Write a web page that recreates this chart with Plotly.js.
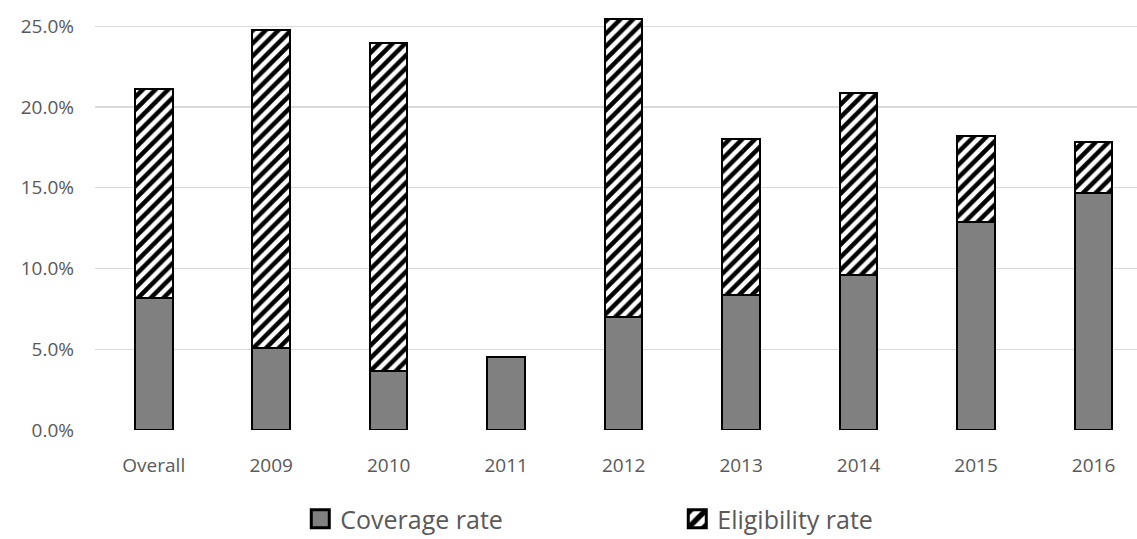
<!DOCTYPE html>
<html>
<head>
<meta charset="utf-8">
<script src="https://cdn.plot.ly/plotly-3.0.1.min.js"></script>
<style>html,body{margin:0;padding:0;background:#fff;}#chart{width:1137px;height:539px;}</style>
</head>
<body>
<div id="chart"></div>
<script>
const categories = ["Overall", "2009", "2010", "2011", "2012", "2013", "2014", "2015", "2016"];
const coverageRate = [8.2, 5.05, 3.65, 4.52, 7.01, 8.37, 9.59, 12.87, 14.65];
const eligibilityRate = [12.94, 19.72, 20.28, 0, 18.42, 9.63, 11.26, 5.36, 3.19];
const yTicks = [0, 5, 10, 15, 20, 25];

const font = "Open Sans, Noto Sans, sans-serif";
const textColor = "#595959";

const traces = [
  {
    type: "bar", name: "Coverage rate", x: categories, y: coverageRate,
    width: 0.32,
    marker: { color: "#808080", line: { color: "#000000", width: 2 } },
    hoverinfo: "skip"
  },
  {
    type: "bar", name: "Eligibility rate", x: categories, y: eligibilityRate,
    width: 0.32,
    marker: {
      color: "#ffffff",
      line: { color: "#000000", width: 2 },
      pattern: { shape: "/", fgcolor: "#000000", bgcolor: "#ffffff", size: 9, solidity: 0.5, fillmode: "replace" }
    },
    hoverinfo: "skip"
  }
];

const layout = {
  width: 1137, height: 539,
  barmode: "stack",
  paper_bgcolor: "#ffffff", plot_bgcolor: "#ffffff",
  margin: { l: 95, r: 0, t: 10, b: 109, autoexpand: false },
  font: { family: font, color: textColor },
  showlegend: true,
  legend: {
    orientation: "h", x: 0.197, xanchor: "left", y: -0.212, yanchor: "middle",
    font: { family: font, size: 25, color: textColor },
    entrywidth: 332, entrywidthmode: "pixels",
    traceorder: "normal"
  },
  xaxis: {
    type: "category",
    range: [-0.5, 8.37],
    automargin: false,
    showgrid: false, zeroline: false, showline: false,
    ticks: "", ticklabelstandoff: 22,
    tickfont: { family: font, size: 19, color: textColor }
  },
  yaxis: {
    range: [0, 26],
    automargin: false,
    tickvals: yTicks,
    ticktext: yTicks.map(v => v.toFixed(1) + "%"),
    showgrid: true, gridcolor: "#d9d9d9", gridwidth: 1.3,
    zeroline: false, showline: false, ticks: "",
    ticklabelstandoff: 20,
    tickfont: { family: font, size: 19, color: textColor }
  }
};

Plotly.newPlot("chart", traces, layout, { staticPlot: true, displayModeBar: false }).then(function (gd) {
  gd.querySelectorAll(".legend .legendpoints path").forEach(function (p) {
    const t = p.getAttribute("transform") || "";
    p.setAttribute("transform", t + " scale(1.5)");
  });
});
</script>
</body>
</html>
